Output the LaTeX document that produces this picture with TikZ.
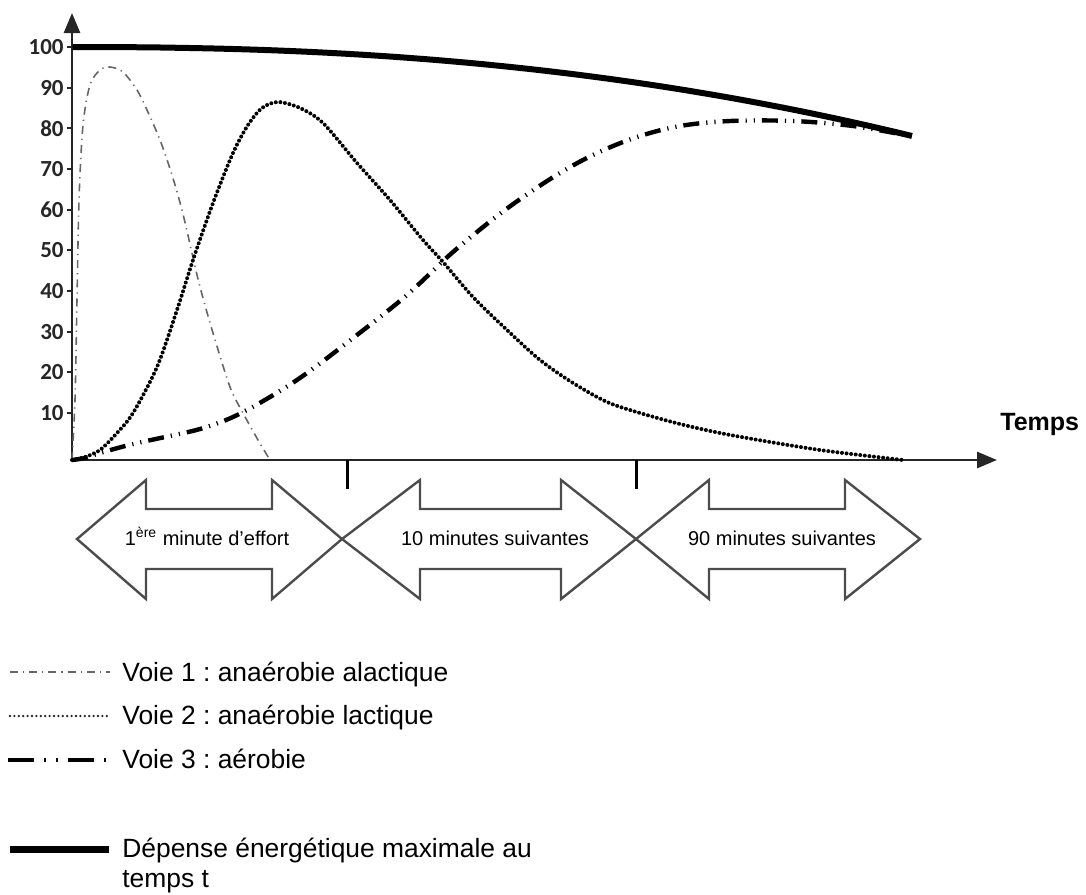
\documentclass[tikz,border=0pt]{standalone}
\usepackage{fontspec}
\setmainfont{Liberation Sans}
\newfontfamily\calib{Carlito}
\usetikzlibrary{arrows.meta}
\frenchspacing
\begin{document}
\begin{tikzpicture}[x=0.5pt,y=-0.5pt,
 axisline/.style={line width=1.4pt, draw=black!85, -{Triangle[length=10pt,width=8pt]}},
 voieA/.style={line width=0.8pt, draw=black!60, dash pattern=on 4pt off 2.5pt on 0.6pt off 2.5pt},
 voieB/.style={line width=2pt, draw=black, line cap=round, dash pattern=on 0pt off 2.3pt},
 voieBleg/.style={line width=1.3pt, draw=black!85, line cap=round, dash pattern=on 0pt off 2.2pt},
 voieC/.style={line width=2.2pt, draw=black, dash pattern=on 8pt off 3.5pt on 0.6pt off 3.5pt on 0.6pt off 3.5pt},
 voieCleg/.style={line width=2.2pt, draw=black, dash pattern=on 13pt off 5pt on 1pt off 5pt on 1pt off 5pt},
 depense/.style={line width=3pt, draw=black},
 bigarrow/.style={line width=1.2pt, draw=black!70, line join=miter},
 ticklab/.style={anchor=east, font=\calib\bfseries\fontsize{11.5}{12}\selectfont, inner sep=0pt, text=black!85},
 lgd/.style={anchor=base west, font=\fontsize{13.2}{16.5}\selectfont, inner sep=0pt},
 arrlab/.style={anchor=base, font=\fontsize{10}{12}\selectfont, inner sep=0pt},
]
\useasboundingbox (0,0) rectangle (1086,894);

% axes
\coordinate (O) at (72,460);
\coordinate (ytip) at (72,13);
\coordinate (xtip) at (997,460);
\draw[axisline] (O) -- (ytip);
\draw[axisline] (O) -- (xtip);

% y ticks and labels
\foreach \v in {10,20,...,100} {
  \pgfmathsetmacro\yy{453.7-4.067*\v}
  \coordinate (tk\v) at (72,\yy);
  \draw[line width=1pt, black!85] (tk\v) -- ++(-5,0);
  \node[ticklab] (tl\v) at (64,\yy) {\v};
}

% x ticks
\coordinate (xa) at (347,460);
\coordinate (xb) at (636,460);
\draw[line width=1.5pt] (xa) -- ++(0,29);
\draw[line width=1.5pt] (xb) -- ++(0,29);

\node[anchor=base west, font=\bfseries\fontsize{12.5}{14}\selectfont, inner sep=0pt] (temps) at (1000,430) {Temps};

% Voie 1
\draw[voieA] plot[smooth, tension=0.5] coordinates {(72,460) (75,400) (77,300) (79,200) (83,125) (90,85) (100,70) (110,67) (123,72) (137,90) (147,110) (160,140) (172,175) (182,210) (192,253) (200,287) (213,333) (230,387) (243,413) (258,440) (270,460)};

% Voie 2
\draw[voieB] plot[smooth, tension=0.5] coordinates {(72,460) (85,457) (100,450) (117,433) (133,413) (157,367) (177,310) (193,260) (213,203) (233,153) (248,125) (262,108) (278,102) (300,108) (323,123) (357,163) (390,200) (423,240) (443,262) (473,297) (507,330) (540,360) (573,383) (607,402) (640,413) (680,424) (720,433) (770,442) (820,450) (860,455) (903,460)};

% Voie 3
\draw[voieC] plot[smooth, tension=0.55] coordinates {(72,460) (85,458) (100,453) (133,444) (165,437) (200,429) (233,417) (270,397) (307,373) (357,335) (407,295) (453,252) (505,210) (555,176) (595,154) (637,137) (680,126) (730,121) (793,121) (853,126) (910,136)};

% Depense max
\draw[depense] plot[domain=72.5:912, samples=80, smooth] (\x, {47+89*((\x-72)/840)^2.3});

% big double arrows
\draw[bigarrow] (77,539) -- (146,480) -- (146,509) -- (272,509) -- (272,480) -- (342,539) -- (272,599) -- (272,569) -- (146,569) -- (146,599) -- cycle;
\draw[bigarrow] (342,539) -- (420,480) -- (420,509) -- (561,509) -- (561,480) -- (636,539) -- (561,599) -- (561,569) -- (420,569) -- (420,599) -- cycle;
\draw[bigarrow] (636,539) -- (709,480) -- (709,509) -- (845,509) -- (845,480) -- (920,539) -- (845,599) -- (845,569) -- (709,569) -- (709,599) -- cycle;

\node[arrlab] (p1) at (207,545) {1\textsuperscript{ère} minute d'effort};
\node[arrlab] (p2) at (495,545) {10 minutes suivantes};
\node[arrlab] (p3) at (782,545) {90 minutes suivantes};

% legend
\coordinate (l1a) at (10,672); \coordinate (l1b) at (110,672);
\coordinate (l2a) at (10,716); \coordinate (l2b) at (108,716);
\coordinate (l3a) at (8,760);  \coordinate (l3b) at (110,760);
\coordinate (l4a) at (10,849); \coordinate (l4b) at (109,849);
\draw[voieA] (l1a) -- (l1b);
\draw[voieBleg] (l2a) -- (l2b);
\draw[voieCleg] (l3a) -- (l3b);
\draw[line width=3.5pt] (l4a) -- (l4b);
\node[lgd] (g1) at (122,681) {Voie 1 : anaérobie alactique};
\node[lgd] (g2) at (122,724) {Voie 2 : anaérobie lactique};
\node[lgd] (g3) at (122,768) {Voie 3 : aérobie};
\node[lgd] (g4) at (122,857) {Dépense énergétique maximale au};
\node[lgd] (g5) at (122,887) {temps t};
\end{tikzpicture}
\end{document}
